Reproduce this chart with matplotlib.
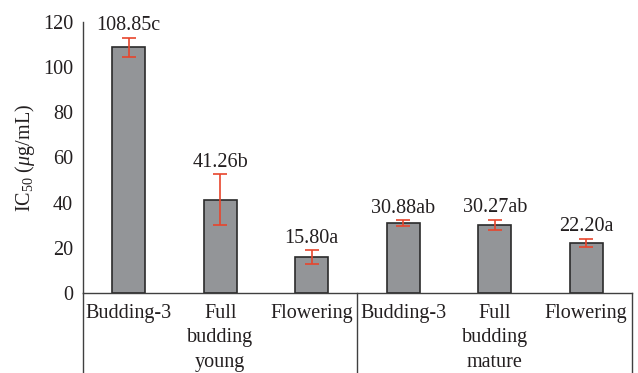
import matplotlib
matplotlib.use("Agg")
import matplotlib.pyplot as plt
import numpy as np

categories = ["Budding-3", "Full\nbudding", "Flowering", "Budding-3", "Full\nbudding", "Flowering"]
groups = ["young", "mature"]
values = [108.85, 41.26, 15.80, 30.88, 30.27, 22.20]
errors = [4.2, 11.3, 3.1, 1.3, 2.2, 1.7]
letters = ["c", "b", "a", "ab", "ab", "a"]
yticks = [0, 20, 40, 60, 80, 100, 120]

plt.rcParams["font.family"] = ["Liberation Serif", "DejaVu Serif"]
plt.rcParams["mathtext.fontset"] = "custom"
plt.rcParams["mathtext.rm"] = "Liberation Serif"
plt.rcParams["mathtext.it"] = "Liberation Serif:italic"

FS = 14.5
TXT = "#231f20"

fig = plt.figure(figsize=(6.38, 3.73), dpi=100)
ax = fig.add_axes([0.130, 0.2145, 0.8606, 0.7265])

x = np.arange(len(values))
ax.bar(x, values, width=0.36, color="#939598", edgecolor="#2b2b2b", linewidth=1.2, zorder=2)
ax.errorbar(x, values, yerr=errors, fmt="none", ecolor="#e8452c", elinewidth=1.2,
            capsize=5, capthick=1.2, zorder=3)

for xi, v, e, l in zip(x, values, errors, letters):
    ax.annotate(f"{v:.2f}{l}", (xi, v + e), xytext=(0, 2), textcoords="offset points",
                ha="center", va="bottom", fontsize=FS, color=TXT)

ax.set_xlim(-0.5, len(values) - 0.5)
ax.set_ylim(0, 120)
ax.set_yticks(yticks)
ax.tick_params(axis="y", length=0, labelsize=FS, pad=7, colors=TXT)
ax.set_xticks([])
for s in ["top", "right"]:
    ax.spines[s].set_visible(False)
for s in ["left", "bottom"]:
    ax.spines[s].set_color("#404040")
    ax.spines[s].set_linewidth(1.0)

ax.set_ylabel(r"IC$_{50}$ ($\mathit{\mu}$g/mL)", fontsize=FS, color=TXT, labelpad=4)

# category labels beneath the axis
trans = ax.get_xaxis_transform()
for xi, c in zip(x, categories):
    ax.text(xi, -0.04, c, transform=trans, ha="center", va="top", fontsize=FS,
            linespacing=1.35, color=TXT)
for gi, g in enumerate(groups):
    ax.text(gi * 3 + 1, -0.04 - 0.182, g, transform=trans, ha="center", va="top",
            fontsize=FS, color=TXT)

# group separators
for xs in [-0.5, 2.5, 5.5]:
    ax.plot([xs, xs], [0, -0.32], transform=trans, color="#404040", lw=1.0, clip_on=False)

fig.savefig("out.png", dpi=100)
